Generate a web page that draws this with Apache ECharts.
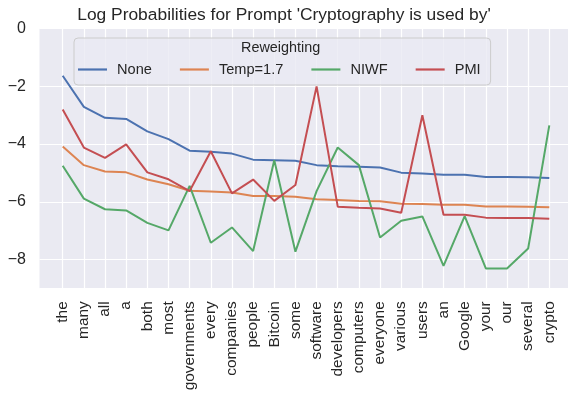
<!DOCTYPE html>
<html>
<head>
<meta charset="utf-8">
<script src="https://cdn.jsdelivr.net/npm/echarts@6/dist/echarts.min.js"></script>
<style>
html,body{margin:0;padding:0;background:#fff;}
#chart{width:568px;height:403px;}
</style>
</head>
<body>
<div id="chart"></div>
<script>
var categories = ['the','many','all','a','both','most','governments','every','companies','people','Bitcoin','some','software','developers','computers','everyone','various','users','an','Google','your','our','several','crypto'];
var noneVals = [-1.63, -2.71, -3.09, -3.13, -3.56, -3.83, -4.23, -4.27, -4.33, -4.54, -4.56, -4.58, -4.73, -4.77, -4.79, -4.81, -4.99, -5.02, -5.06, -5.06, -5.14, -5.14, -5.15, -5.18];
var tempVals = [-4.08, -4.73, -4.95, -4.98, -5.23, -5.39, -5.62, -5.64, -5.68, -5.80, -5.80, -5.83, -5.91, -5.94, -5.97, -5.98, -6.07, -6.08, -6.10, -6.10, -6.16, -6.16, -6.17, -6.19];
var niwfVals = [-4.75, -5.89, -6.26, -6.30, -6.73, -6.99, -5.45, -7.42, -6.89, -7.71, -4.56, -7.73, -5.63, -4.12, -4.73, -7.24, -6.66, -6.51, -8.22, -6.50, -8.31, -8.31, -7.62, -3.35];
var pmiVals = [-2.80, -4.12, -4.48, -4.01, -4.98, -5.22, -5.63, -4.25, -5.71, -5.23, -5.97, -5.42, -2.00, -6.17, -6.21, -6.23, -6.38, -3.00, -6.45, -6.45, -6.55, -6.56, -6.56, -6.59];
var seriesNames = ['None', 'Temp=1.7', 'NIWF', 'PMI'];
var seriesColors = ['#4C72B0', '#DD8452', '#55A868', '#C44E52'];
var titleText = "Log Probabilities for Prompt 'Cryptography is used by'";
var legendTitle = 'Reweighting';

var FONT = "'Liberation Sans', Arial, sans-serif";
var chart = echarts.init(document.getElementById('chart'), null, {renderer: 'canvas'});
var allVals = [noneVals, tempVals, niwfVals, pmiVals];
var series = seriesNames.map(function (n, i) {
  return {
    name: n, type: 'line', xAxisIndex: 0, yAxisIndex: 0,
    data: allVals[i], symbol: 'none', showSymbol: false,
    lineStyle: {color: seriesColors[i], width: 2}, itemStyle: {color: seriesColors[i]},
    z: 3
  };
});
chart.setOption({
  animation: false,
  title: {text: titleText, left: 'center', top: 2,
    textStyle: {fontFamily: FONT, fontSize: 17.4, fontWeight: 'normal', color: '#262626'}},
  graphic: [{type: 'text', left: 241, top: 41, z: 100,
    style: {text: legendTitle, font: '14.4px ' + FONT, fill: '#262626'}}],
  legend: {
    left: 74, top: 38, orient: 'horizontal',
    padding: [24, 10, 8, 4], itemGap: 28, itemWidth: 29, itemHeight: 2.2,
    icon: 'rect',
    backgroundColor: 'rgba(234,234,242,0.8)', borderColor: '#cccccc', borderWidth: 1, borderRadius: 4,
    textStyle: {fontFamily: FONT, fontSize: 14.6, color: '#262626', padding: [0, 0, 0, 5]},
    data: seriesNames
  },
  grid: [
    {left: 62.7, top: 28.7, width: 486.6, height: 259.6, show: false},
    {left: 39.5, top: 28.7, width: 535, height: 259.6, show: true, backgroundColor: '#EAEAF2', borderWidth: 0}
  ],
  xAxis: [
    {gridIndex: 0, type: 'category', data: categories, boundaryGap: false,
      axisLine: {show: false}, axisTick: {show: false},
      splitLine: {show: true, lineStyle: {color: '#ffffff', width: 1.2}},
      axisLabel: {rotate: 90, margin: 13, interval: 0, fontFamily: FONT, fontSize: 15.4, color: '#262626'}},
    {gridIndex: 1, type: 'value', min: 0, max: 1, show: false}
  ],
  yAxis: [
    {gridIndex: 0, type: 'value', min: -9, max: 0, show: false, splitLine: {show: false}},
    {gridIndex: 1, type: 'value', min: -9, max: 0,
      axisLine: {show: false}, axisTick: {show: false},
      splitLine: {show: true, lineStyle: {color: '#ffffff', width: 1.2}},
      axisLabel: {margin: 13.5, fontFamily: FONT, fontSize: 16, color: '#262626',
        formatter: function (v) { if (v === -9) return ''; return v < 0 ? '\u2212' + Math.abs(v) : String(v); }}}
  ],
  series: series
});
</script>
</body>
</html>
